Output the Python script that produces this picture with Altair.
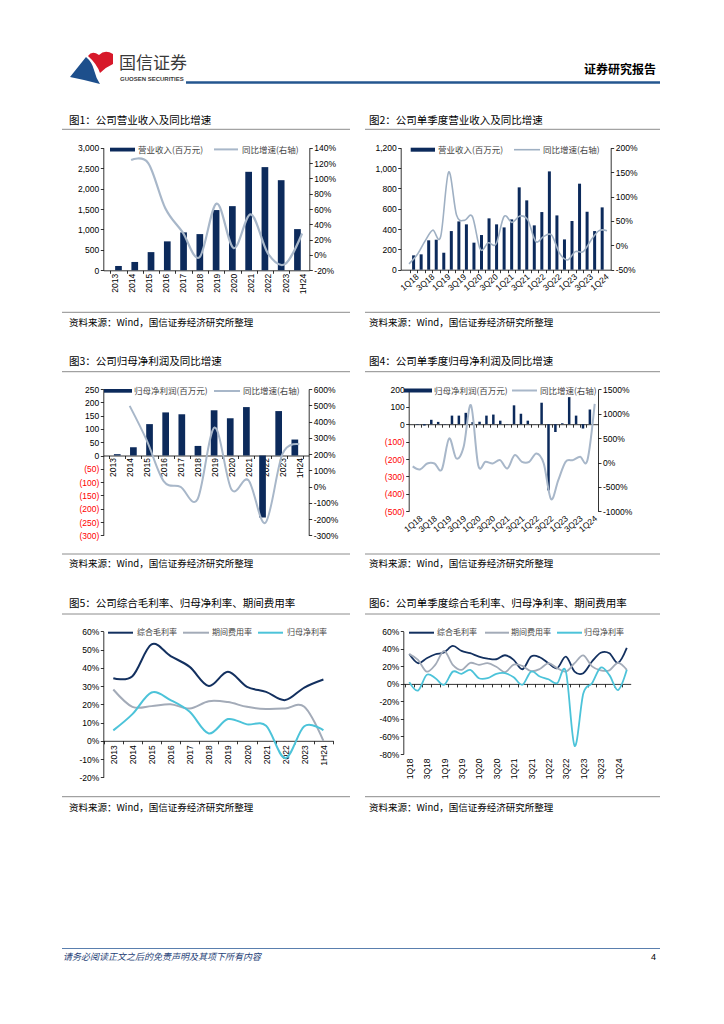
import json
import altair as alt
import pandas as pd

# ---------------- categories ----------------
years = ["2013", "2014", "2015", "2016", "2017", "2018", "2019", "2020", "2021", "2022", "2023", "1H24"]
quarters = ["1Q18", "2Q18", "3Q18", "4Q18", "1Q19", "2Q19", "3Q19", "4Q19",
            "1Q20", "2Q20", "3Q20", "4Q20", "1Q21", "2Q21", "3Q21", "4Q21",
            "1Q22", "2Q22", "3Q22", "4Q22", "1Q23", "2Q23", "3Q23", "4Q23",
            "1Q24", "2Q24"]
margin_series = ["综合毛利率", "期间费用率", "归母净利率"]

# ---------------- fig 1 ----------------
rev_year = [106, 204, 445, 708, 928, 886, 1474, 1570, 2410, 2525, 2205, 1008]
rev_year_yoy = [None, 124, 120, 61, 30, -3, 67, 9, 53, 2, -12, 28]
# ---------------- fig 2 ----------------
rev_quarter = [141, 151, 289, 295, 167, 380, 475, 446, 266, 341, 505, 446, 416,
               495, 810, 682, 436, 567, 967, 534, 298, 479, 846, 570, 380, 613]
rev_quarter_yoy = [-38, -20, 8, 31, 18, 150, 62, 51, 59, -8, 5, 3, 59,
                   47, 60, 52, 8, 18, 21, -16, -30, -13, -13, 11, 30, 30]
# ---------------- fig 3 ----------------
np_year = [5, 31, 118, 162, 155, 36, 170, 140, 182, -233, 167, 60]
np_year_yoy = [None, 496, 285, 33, -2, -78, 363, -18, 39, -223, 199, 260]
# ---------------- fig 4 ----------------
np_quarter = [-3, -8, 25, 13, -2, 49, 49, 65, 12, 14, 49, 55, 20,
              -2, 108, 59, 20, 1, 123, -380, -45, 5, 155, 49, -25, 84]
np_quarter_yoy = [-80, -143, -20, -20, -143, 492, 82, 321, 1175, -55, 14, -20, 48,
                  -123, 150, 14, 14, 184, -20, -750, -362, 14, 48, 116, 48, 1200]
# ---------------- fig 5 ----------------
gm_year = [34.3, 35.4, 52.8, 46.4, 40.5, 30.0, 37.8, 29.6, 26.8, 22.3, 29.2, 33.6]
exp_year = [28.1, 18.6, 19.0, 20.0, 17.7, 21.7, 21.2, 18.6, 17.4, 17.7, 18.6, 0.0]
npm_year = [5.7, 14.6, 26.5, 22.3, 15.9, 4.0, 11.9, 9.0, 8.2, -9.5, 8.0, 5.8]
# ---------------- fig 6 ----------------
gm_quarter = [34, 23.6, 29.3, 33.8, 36, 43.3, 37.6, 35, 31.2, 28.9, 28.1, 32.7, 27.4,
              16.7, 31.2, 30.4, 23.6, 17.9, 31.2, 14, 12.2, 25.5, 35.5, 35, 24, 41]
exp_quarter = [34, 27.4, 14, 22, 37.5, 21.7, 16, 24, 21.7, 23.6, 19.5, 13.5, 22,
               20.5, 14.5, 17, 23.6, 18, 14, 23.6, 32.5, 20, 15.5, 15.5, 24, 16]
npm_quarter = [2, -7.6, 10.3, 6.5, -1, 14, 11.4, 16, 6.5, 6.5, 11.4, 12.2, 7.6,
               -1, 14, 8.4, 5.3, 0.8, 14, -70.7, -11, 0.8, 18.6, 10, -7, 16]

# ---------------- axis tick values ----------------
t1_left = [0, 500, 1000, 1500, 2000, 2500, 3000]
t1_right = [-20, 0, 20, 40, 60, 80, 100, 120, 140]
t2_left = [0, 200, 400, 600, 800, 1000, 1200]
t2_right = [-50, 0, 50, 100, 150, 200]
t3_left = [-300, -250, -200, -150, -100, -50, 0, 50, 100, 150, 200, 250]
t3_right = [-300, -200, -100, 0, 100, 200, 300, 400, 500, 600]
t4_left = [-500, -400, -300, -200, -100, 0, 100, 200]
t4_right = [-1000, -500, 0, 500, 1000, 1500]
t5_left = [-20, -10, 0, 10, 20, 30, 40, 50, 60]
t6_left = [-80, -60, -40, -20, 0, 20, 40, 60]

# ---------------- style ----------------
W, H = 708, 1008
CN = "Noto Sans CJK SC"
NUM = "Liberation Sans"
NAVY = "#0c2a5b"
LGREY = "#a8b7c9"
RED = "#ff0000"
SER_COLORS = ["#13305f", "#a3abb8", "#4cc3d9"]
one = pd.DataFrame({"k": [0]})


def X(p):
    return p - 8


def Y(p):
    return p - 8


def off_left(px):
    return -X(px)


def off_right(px):
    return -(W - X(px))


def off_bottom(py):
    return -(H - Y(py))


def xdomain(first, step, left, right):
    return [-(first - left) / step, (right - first) / step]


def xscale(dom, left, right):
    return alt.Scale(domain=dom, range=[X(left), X(right)], nice=False, zero=False)


def yscale(lo, hi, bottom, top):
    return alt.Scale(domain=[lo, hi], range=[Y(bottom), Y(top)], nice=False, zero=False)


def y_axis(orient, offset, values, expr, color="#000000"):
    return alt.Axis(orient=orient, offset=offset, values=values, labelExpr=expr, title=None,
                    grid=False, ticks=True, tickSize=3, tickColor="#000000", tickWidth=0.8,
                    domain=True, domainColor="#000000", domainWidth=0.8, labelColor=color,
                    labelFont=NUM, labelFontSize=8.5, labelPadding=1.5, labelOverlap=False,
                    labelFlush=False)


def x_tick_axis(n, dom, py):
    vals = [i - 0.5 for i in range(n + 1) if dom[0] - 1e-9 <= i - 0.5 <= dom[1] + 1e-9]
    return alt.Axis(orient="bottom", offset=off_bottom(py), values=vals, labels=False,
                    ticks=True, tickSize=3, tickColor="#000000", tickWidth=0.8, domain=True,
                    domainColor="#000000", domainWidth=0.8, grid=False, title=None)


def x_label_axis(cats, py, angle, pad, step=1, align=None, baseline=None, size=8.5):
    arr = json.dumps(cats, ensure_ascii=False)
    kw = dict(orient="bottom", offset=off_bottom(py), values=list(range(0, len(cats), step)),
              labelExpr=f"{arr}[round(datum.value)]", labelAngle=angle, labelPadding=pad,
              ticks=False, tickSize=0, domain=False, grid=False, title=None,
              labelOverlap=False, labelFlush=False, labelFont=NUM, labelFontSize=size,
              labelColor="#000000")
    if align:
        kw["labelAlign"] = align
    if baseline:
        kw["labelBaseline"] = baseline
    return alt.Axis(**kw)


def text(t, px, py, size=9, color="#000000", align="left", weight="normal", font=CN,
         style="normal"):
    return alt.Chart(one).mark_text(text=t, align=align, baseline="middle", fontSize=size,
                                    color=color, font=font, fontWeight=weight,
                                    fontStyle=style).encode(x=alt.value(X(px)), y=alt.value(Y(py)))


def hline(x0, x1, py, color, width=1.0):
    return alt.Chart(one).mark_rule(color=color, strokeWidth=width).encode(
        x=alt.value(X(x0)), x2=alt.value(X(x1)), y=alt.value(Y(py)))


def rect(x0, x1, y0, y1, color):
    return alt.Chart(one).mark_rect(color=color).encode(
        x=alt.value(X(x0)), x2=alt.value(X(x1)), y=alt.value(Y(y0)), y2=alt.value(Y(y1)))


PCT = "datum.value + '%'"
COMMA = "format(datum.value, ',')"
PAREN = "datum.value < 0 ? '(' + format(-datum.value, ',') + ')' : format(datum.value, ',')"
NEG_RED = {"condition": {"test": "datum.value < 0", "value": RED}, "value": "#000000"}


def bar_line(cats, bars, growth, first, step, lx, rx, yb, yt, ylim, yvals, yexpr, glim, gvals,
             bar_size, tick_y, lab_y, lab_angle, lab_pad, lab_step=1, lab_align=None,
             lab_base=None, lcolor="#000000", lw=2.0, lcol=LGREY):
    n = len(cats)
    dom = xdomain(first, step, lx, rx)
    xs = xscale(dom, lx, rx)
    ys = yscale(ylim[0], ylim[1], yb, yt)
    gs = yscale(glim[0], glim[1], yb, yt)
    dfb = pd.DataFrame({"i": list(range(n)), "v": bars})
    dfl = pd.DataFrame({"i": [i for i, g in enumerate(growth) if g is not None],
                        "g": [g for g in growth if g is not None]})
    b = alt.Chart(dfb).mark_bar(color=NAVY, size=bar_size, orient="vertical").encode(
        x=alt.X("i:Q", scale=xs, axis=x_tick_axis(n, dom, tick_y)),
        y=alt.Y("v:Q", scale=ys, axis=y_axis("left", off_left(lx), yvals, yexpr, lcolor)),
        y2=alt.datum(0))
    ln = alt.Chart(dfl).mark_line(color=lcol, strokeWidth=lw, interpolate="cardinal").encode(
        x=alt.X("i:Q", scale=xs, axis=x_label_axis(cats, lab_y, lab_angle, lab_pad, lab_step,
                                                   lab_align, lab_base)),
        y=alt.Y("g:Q", scale=gs, axis=y_axis("right", off_right(rx), gvals, PCT)))
    return [b, ln]


def multi_line(cats, series, first, step, lx, rx, yb, yt, ylim, yvals, tick_y, lab_y, lab_pad,
               lab_step, sw):
    n = len(cats)
    dom = xdomain(first, step, lx, rx)
    xs = xscale(dom, lx, rx)
    ys = yscale(ylim[0], ylim[1], yb, yt)
    rows = []
    for name, vals in zip(margin_series, series):
        for i, v in enumerate(vals):
            rows.append({"i": i, "v": v, "s": name})
    df = pd.DataFrame(rows)
    base = alt.Chart(df).mark_point(opacity=0).encode(
        x=alt.X("i:Q", scale=xs, axis=x_tick_axis(n, dom, tick_y)),
        y=alt.Y("v:Q", scale=ys, axis=y_axis("left", off_left(lx), yvals, PCT)))
    lines = alt.Chart(df).mark_line(strokeWidth=sw, interpolate="cardinal").encode(
        x=alt.X("i:Q", scale=xs, axis=x_label_axis(cats, lab_y, -90, lab_pad, lab_step)),
        y=alt.Y("v:Q", scale=ys, axis=None),
        color=alt.Color("s:N", scale=alt.Scale(domain=margin_series, range=SER_COLORS),
                        legend=None))
    return [base, lines]


layers = []

# ---------------- header ----------------
blue_logo = ("M -0.977 0.409 L -0.25 -0.5 Q 0.023 -0.273 0.114 0.091 "
             "Q 0.205 0.455 0.386 0.727 L -0.341 0.545 Z")
red_logo = ("M -0.159 -0.545 Q 0.023 -0.818 0.341 -0.591 Q 0.614 -0.864 0.977 -0.636 "
            "L 0.977 -0.182 Q 0.659 -0.045 0.386 0.227 Q 0.25 -0.182 -0.159 -0.545 Z")
for shp, colr in [(blue_logo, "#1d4f8c"), (red_logo, "#d7192a")]:
    layers.append(alt.Chart(one).mark_point(shape=shp, size=1936, filled=True, color=colr,
                                            opacity=1, strokeWidth=0).encode(
        x=alt.value(X(91.5)), y=alt.value(Y(68))))
layers.append(text("国信证券", 119, 63.5, 17, "#3a3a3a"))
layers.append(text("GUOSEN SECURITIES", 120, 78.5, 6, "#3a3a3a", weight="bold", font=NUM))
layers.append(text("证券研究报告", 656, 70, 12, "#000000", align="right", weight="bold"))
layers.append(hline(186, 660, 82.5, "#24568f", 2.5))

# ---------------- footer ----------------
layers.append(hline(62, 660, 948.5, "#5a7fae", 1))
layers.append(text("请务必阅读正文之后的免责声明及其项下所有内容", 63, 956.5, 9, "#1f3f77",
                   style="italic"))
layers.append(text("4", 656, 956.5, 9, "#000000", align="right", font=NUM))

# ---------------- titles, rules, sources ----------------
titles = [
    ("图1：公司营业收入及同比增速", 69, 121),
    ("图2：公司单季度营业收入及同比增速", 369, 121),
    ("图3：公司归母净利润及同比增速", 69, 362),
    ("图4：公司单季度归母净利润及同比增速", 369, 362),
    ("图5：公司综合毛利率、归母净利率、期间费用率", 69, 604),
    ("图6：公司单季度综合毛利率、归母净利率、期间费用率", 369, 604),
]
for t, px, py in titles:
    layers.append(text(t, px, py, 10.5, "#000000"))
for py in [129.3, 371.7, 614]:
    layers.append(hline(62, 350, py, "#8c8c8c", 1))
    layers.append(hline(365, 660, py, "#8c8c8c", 1))
for py in [312.3, 554, 796.7]:
    layers.append(hline(62, 350, py, "#8c8c8c", 1))
    layers.append(hline(365, 660, py, "#8c8c8c", 1))
src = "资料来源：Wind，国信证券经济研究所整理"
for py in [322.5, 564, 807.5]:
    layers.append(text(src, 69, py, 9.5, "#000000"))
    layers.append(text(src, 369, py, 9.5, "#000000"))

# ---------------- fig 1 ----------------
layers += bar_line(years, rev_year, rev_year_yoy, 114, 17.1, 103.3, 309.3, 270.3, 147.7,
                   (0, 3000), t1_left, COMMA, (-20, 140), t1_right, 6.7,
                   270.3, 270.3, -90, 3, lw=2.2)
# ---------------- fig 2 ----------------
layers += bar_line(quarters, rev_quarter, rev_quarter_yoy, 409, 7.92, 400.7, 610.7, 269.7, 147.7,
                   (0, 1200), t2_left, COMMA, (-50, 200), t2_right, 3.0,
                   269.7, 269.7, -40, 12, 2, "center", "middle", lw=1.6, lcol="#9fb0c3")
# ---------------- fig 3 ----------------
layers += bar_line(years, np_year, np_year_yoy, 112.7, 16.97, 103.3, 308.7, 535.3, 389,
                   (-300, 250), t3_left, PAREN, (-300, 600), t3_right, 6.7,
                   455.5, 455.5, -90, 2, lcolor=NEG_RED, lw=2.0)
# ---------------- fig 4 ----------------
layers += bar_line(quarters, np_quarter, np_quarter_yoy, 412.7, 7.28, 408.7, 598, 511.3, 389.3,
                   (-500, 200), t4_left, PAREN, (-1000, 1500), t4_right, 2.5,
                   424.2, 511.3, -40, 12, 2, "center", "middle", lcolor=NEG_RED, lw=2.0)
# ---------------- fig 5 ----------------
layers += multi_line(years, [gm_year, exp_year, npm_year], 113.3, 19.1, 103.3, 333.3,
                     777.3, 631.3, (-20, 60), t5_left, 740.8, 740.8, 4, 1, 2.0)
# ---------------- fig 6 ----------------
layers += multi_line(quarters, [gm_quarter, exp_quarter, npm_quarter], 409.3, 8.7, 403.3, 630.7,
                     754, 631.3, (-80, 60), t6_left, 683.9, 754, 4, 2, 1.8)

# ---------------- legends ----------------
LEG = "#444444"
layers += [rect(110, 135, 147.7, 151.5, NAVY), text("营业收入(百万元)", 138, 149.6, 8.5, LEG),
           hline(214, 238, 149.4, LGREY, 2), text("同比增速(右轴)", 242, 149.6, 8.5, LEG)]
layers += [rect(410.7, 435, 147.7, 151.7, NAVY), text("营业收入(百万元)", 438, 149.7, 8.5, LEG),
           hline(514, 540, 149.7, "#9fb0c3", 1.6), text("同比增速(右轴)", 543, 149.7, 8.5, LEG)]
layers += [rect(104, 132, 389, 392.7, NAVY), text("归母净利润(百万元)", 134, 391, 8.5, LEG),
           hline(214, 240, 391, LGREY, 2), text("同比增速(右轴)", 243, 391, 8.5, LEG)]
layers += [rect(404, 432, 388.5, 392.5, NAVY), text("归母净利润(百万元)", 434, 390.5, 8.5, LEG),
           hline(512, 537, 390.5, LGREY, 2), text("同比增速(右轴)", 540, 390.5, 8.5, LEG)]
for (x0, x1, tx), name, colr in zip([(108, 133, 137), (183, 209, 212), (258, 283, 287)],
                                    margin_series, SER_COLORS):
    layers += [hline(x0, x1, 632.7, colr, 2), text(name, tx, 632.9, 8, LEG)]
for (x0, x1, tx), name, colr in zip([(409, 434, 437), (485, 509, 511), (557, 582, 584)],
                                    margin_series, SER_COLORS):
    layers += [hline(x0, x1, 632.7, colr, 2), text(name, tx, 632.9, 8, LEG)]

chart = alt.layer(*layers).resolve_scale(
    x="independent", y="independent", color="independent"
).properties(
    width=W, height=H, padding=0, autosize=alt.AutoSizeParams(type="none"), background="white"
).configure_view(stroke=None)

chart.save("out.html", embed_options={"renderer": "svg", "actions": False})
